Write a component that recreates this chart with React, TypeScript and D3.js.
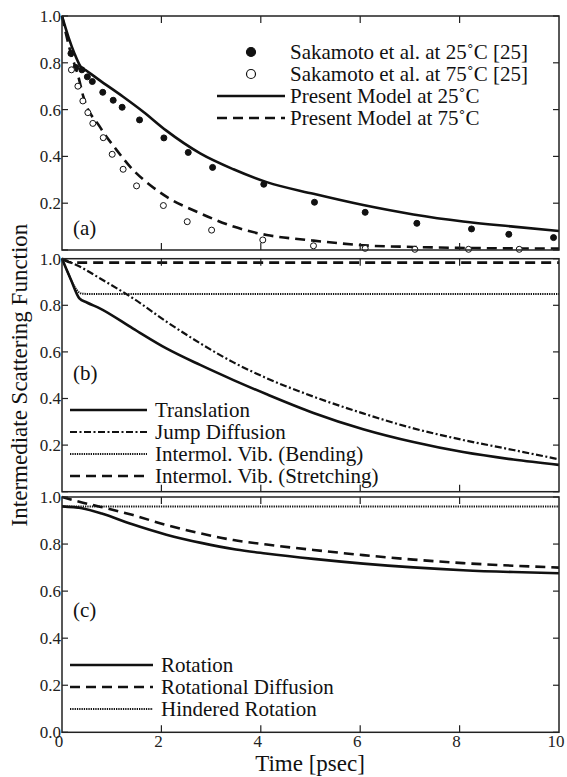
import { line, curveMonotoneX, scaleLinear } from "d3";

const width = 567;
const height = 777;
const left = 62;
const right = 559;
const font = "'Liberation Serif', 'Times New Roman', serif";

// x ticks (Time, psec) and y ticks shared by all three panels
const timeTicks = [0, 2, 4, 6, 8, 10];
const valueTicks = [0, 0.2, 0.4, 0.6, 0.8, 1.0];

// (a) Sakamoto et al. measurements
const sak25T = [0.18, 0.28, 0.4, 0.51, 0.61, 0.82, 1.03, 1.21, 1.56, 2.05, 2.54, 3.03, 4.06, 5.08, 6.1, 7.14, 8.24, 8.99, 9.89];
const sak25V = [0.84, 0.78, 0.77, 0.74, 0.72, 0.674, 0.64, 0.61, 0.556, 0.479, 0.417, 0.353, 0.281, 0.204, 0.161, 0.114, 0.09, 0.067, 0.053];
const sak75T = [0.19, 0.32, 0.42, 0.52, 0.62, 0.83, 1.01, 1.23, 1.5, 2.04, 2.52, 3.01, 4.04, 5.06, 6.1, 7.1, 8.18, 9.2];
const sak75V = [0.77, 0.7, 0.637, 0.587, 0.541, 0.48, 0.409, 0.345, 0.274, 0.19, 0.121, 0.085, 0.043, 0.018, 0.007, 0.003, 0.003, 0.003];

// (a) present model
const model25T = [0, 0.13, 0.25, 0.37, 0.5, 0.76, 1.23, 1.64, 2.1, 2.78, 3.45, 4.12, 5.06, 6.06, 7.07, 8.07, 9.08, 10];
const model25V = [1.0, 0.91, 0.84, 0.785, 0.765, 0.725, 0.655, 0.59, 0.51, 0.413, 0.345, 0.29, 0.24, 0.192, 0.152, 0.122, 0.1, 0.081];
const model75T = [0, 0.16, 0.33, 0.43, 0.76, 1.1, 1.43, 1.77, 2.1, 2.78, 3.45, 4.12, 4.79, 5.06, 6.06, 7.07, 8.4, 10];
const model75V = [1.0, 0.855, 0.74, 0.655, 0.527, 0.427, 0.342, 0.278, 0.228, 0.157, 0.1, 0.064, 0.046, 0.04, 0.02, 0.013, 0.008, 0.006];

// (b) translational components
const transT = [0, 0.18, 0.35, 0.5, 0.76, 1.43, 2.1, 2.78, 3.45, 4.12, 5.06, 6.06, 7.07, 8.07, 9.08, 10];
const transV = [1.0, 0.91, 0.83, 0.812, 0.787, 0.7, 0.615, 0.544, 0.479, 0.418, 0.338, 0.268, 0.213, 0.17, 0.138, 0.115];
const jumpT = [0, 0.42, 0.76, 1.43, 2.1, 2.78, 3.45, 4.12, 5.06, 6.06, 7.07, 8.07, 9.08, 10];
const jumpV = [1.0, 0.959, 0.916, 0.83, 0.73, 0.637, 0.555, 0.487, 0.408, 0.336, 0.272, 0.222, 0.179, 0.139];
const bendT = [0, 0.1, 0.2, 0.3, 0.4, 0.6, 10];
const bendV = [1.0, 0.95, 0.9, 0.865, 0.85, 0.848, 0.848];
const stretchT = [0, 0.15, 0.3, 10];
const stretchV = [1.0, 0.985, 0.983, 0.983];

// (c) rotational components
const rotT = [0, 0.4, 0.8, 1.4, 2.1, 2.8, 3.5, 4.1, 5.06, 6.06, 7.07, 8.07, 9.08, 10];
const rotV = [0.96, 0.952, 0.93, 0.885, 0.84, 0.805, 0.777, 0.76, 0.737, 0.717, 0.701, 0.689, 0.681, 0.676];
const rotDiffT = [0, 0.42, 0.76, 1.43, 2.1, 2.78, 3.45, 4.12, 5.06, 6.06, 7.07, 8.07, 9.08, 10];
const rotDiffV = [1.0, 0.976, 0.959, 0.923, 0.881, 0.846, 0.817, 0.798, 0.775, 0.753, 0.734, 0.719, 0.708, 0.7];
const hinderT = [0, 10];
const hinderV = [0.96, 0.96];

const x = scaleLinear().domain([0, 10]).range([left, right]);

const styles = {
  solid: { strokeWidth: 2.6, dash: undefined },
  dashed: { strokeWidth: 2.6, dash: "10,6" },
  dotted: { strokeWidth: 2, dash: "1.3,1" },
  dashDot: { strokeWidth: 2.2, dash: "7,2.5,2,2.5" },
};

const zip = (ts, vs) => ts.map((t, i) => [t, vs[i]]);

const Panel = ({ top, bottom, label, labelY, series, legend, legendX, legendY, lineLen, textGap, dots, xLabels }) => {
  const y = scaleLinear().domain([0, 1]).range([bottom, top]);
  const path = line().x((d) => x(d[0])).y((d) => y(d[1])).curve(curveMonotoneX);
  return (
    <g>
      {series.map((s, i) => (
        <path key={i} d={path(zip(s.t, s.v))} fill="none" stroke="#111"
          strokeWidth={styles[s.style].strokeWidth} strokeDasharray={styles[s.style].dash} />
      ))}
      {dots && dots.map((ds, j) =>
        ds.t.map((t, i) => (
          <circle key={j + "-" + i} cx={x(t)} cy={y(ds.v[i])} r={3}
            fill={ds.filled ? "#111" : "#fff"} stroke="#111" strokeWidth={1} />
        ))
      )}
      <rect x={left} y={top} width={right - left} height={bottom - top} fill="none" stroke="#222" strokeWidth={1.5} />
      {timeTicks.slice(1, -1).map((t) => (
        <g key={t}>
          <line x1={x(t)} x2={x(t)} y1={top} y2={top + 7} stroke="#222" strokeWidth={1.2} />
          <line x1={x(t)} x2={x(t)} y1={bottom} y2={bottom - 7} stroke="#222" strokeWidth={1.2} />
        </g>
      ))}
      {valueTicks.map((v) => (
        <g key={v}>
          <line x1={left} x2={left + 6} y1={y(v)} y2={y(v)} stroke="#222" strokeWidth={1.2} />
          <line x1={right} x2={right - 6} y1={y(v)} y2={y(v)} stroke="#222" strokeWidth={1.2} />
          {(v > 0 || xLabels) && (
            <text x={61} y={y(v)} dy="0.35em" textAnchor="end" fontSize={17} fill="#222">
              {v.toFixed(1)}
            </text>
          )}
        </g>
      ))}
      {xLabels && timeTicks.map((t) => (
        <text key={t} x={x(t) - 3} y={bottom + 15} textAnchor="middle" fontSize={17} fill="#222">{t}</text>
      ))}
      <text x={73} y={labelY} fontSize={21} fill="#111">{label}</text>
      {legend.map((l, i) => (
        <g key={i}>
          {l.marker ? (
            <circle cx={legendX + lineLen / 2 + 0} cy={legendY + i * 22} r={4.5}
              fill={l.marker === "filled" ? "#111" : "#fff"} stroke="#111" strokeWidth={1.2} />
          ) : (
            <line x1={legendX} x2={legendX + lineLen} y1={legendY + i * 22} y2={legendY + i * 22} stroke="#111"
              strokeWidth={styles[l.style].strokeWidth} strokeDasharray={styles[l.style].dash} />
          )}
          <text x={legendX + lineLen + textGap} y={legendY + i * 22} dy="0.35em" fontSize={21} fill="#111">{l.text}</text>
        </g>
      ))}
    </g>
  );
};

export default function App() {
  return (
    <svg width={width} height={height} style={{ position: "absolute", left: 0, top: 0, background: "#fff" }} fontFamily={font}>
      <Panel top={16} bottom={250} label="(a)" labelY={235}
        series={[
          { t: model25T, v: model25V, style: "solid" },
          { t: model75T, v: model75V, style: "dashed" },
        ]}
        dots={[
          { t: sak25T, v: sak25V, filled: true },
          { t: sak75T, v: sak75V, filled: false },
        ]}
        legend={[
          { marker: "filled", text: "Sakamoto et al. at 25˚C [25]" },
          { marker: "open", text: "Sakamoto et al. at 75˚C [25]" },
          { style: "solid", text: "Present Model at 25˚C" },
          { style: "dashed", text: "Present Model at 75˚C" },
        ]}
        legendX={217} legendY={52} lineLen={68} textGap={5} />
      <Panel top={258.7} bottom={491.7} label="(b)" labelY={380}
        series={[
          { t: transT, v: transV, style: "solid" },
          { t: jumpT, v: jumpV, style: "dashDot" },
          { t: bendT, v: bendV, style: "dotted" },
          { t: stretchT, v: stretchV, style: "dashed" },
        ]}
        legend={[
          { style: "solid", text: "Translation" },
          { style: "dashDot", text: "Jump Diffusion" },
          { style: "dotted", text: "Intermol. Vib. (Bending)" },
          { style: "dashed", text: "Intermol. Vib. (Stretching)" },
        ]}
        legendX={70} legendY={410} lineLen={77} textGap={8} />
      <Panel top={497} bottom={732.3} label="(c)" labelY={617} xLabels
        series={[
          { t: rotT, v: rotV, style: "solid" },
          { t: rotDiffT, v: rotDiffV, style: "dashed" },
          { t: hinderT, v: hinderV, style: "dotted" },
        ]}
        legend={[
          { style: "solid", text: "Rotation" },
          { style: "dashed", text: "Rotational Diffusion" },
          { style: "dotted", text: "Hindered Rotation" },
        ]}
        legendX={70} legendY={665} lineLen={83} textGap={8} />
      <text x={310} y={771} textAnchor="middle" fontSize={23} fill="#111">Time [psec]</text>
      <text transform="translate(27,375) rotate(-90)" textAnchor="middle" fontSize={23} fill="#111">
        Intermediate Scattering Function
      </text>
    </svg>
  );
}
